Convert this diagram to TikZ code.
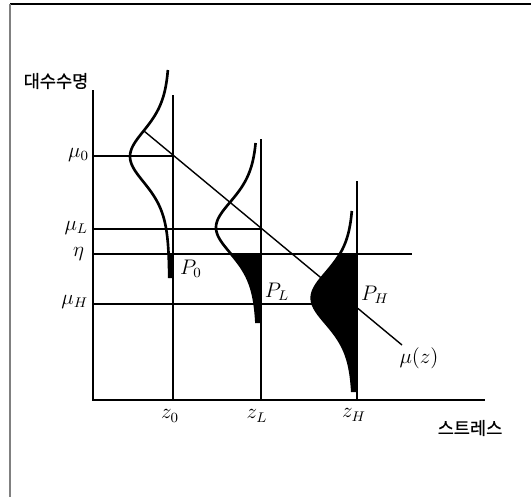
\documentclass[tikz,border=0pt]{standalone}
\usepackage{fontspec}
\newfontfamily\krfont[FakeBold=0.7]{Noto Sans CJK KR}
\begin{document}
\begin{tikzpicture}[x={(0.02cm,0cm)},y={(0cm,-0.02cm)},every node/.style={inner sep=0pt, outer sep=0pt, font=\fontsize{12}{14}\selectfont},
  axisline/.style={line width=0.9pt},
  guide/.style={line width=0.8pt},
  etaline/.style={line width=1.2pt},
  dens/.style={line width=1.5pt, line join=round},
  krlabel/.style={font=\krfont\fontsize{10}{12}\selectfont}]
\useasboundingbox (0,0) rectangle (531,497);
\draw[line width=0.8pt] (10,4) -- (531,4);
\draw[gray, line width=1.1pt] (10,4) -- (10,497);
\coordinate (org) at (93,400);
\coordinate (ytop) at (93,90);
\coordinate (xend) at (485,400);
\draw[axisline] (ytop) -- (org) -- (xend);
\coordinate (z0top) at (173,95);
\coordinate (z0bot) at (173,400);
\coordinate (zLtop) at (261,139);
\coordinate (zLbot) at (261,400);
\coordinate (zHtop) at (357,181);
\coordinate (zHbot) at (357,400);
\draw[guide] (z0top) -- (z0bot);
\draw[guide] (zLtop) -- (zLbot);
\draw[guide] (zHtop) -- (zHbot);
\coordinate (mu0l) at (93,156);
\coordinate (mu0r) at (173,156);
\coordinate (muLl) at (93,229);
\coordinate (muLr) at (261,229);
\coordinate (etal) at (93,254);
\coordinate (etar) at (412,254);
\coordinate (muHl) at (93,304);
\coordinate (muHr) at (313,304);
\draw[guide] (mu0l) -- (mu0r);
\draw[guide] (muLl) -- (muLr);
\draw[etaline] (etal) -- (etar);
\draw[guide] (muHl) -- (muHr);
\coordinate (muzs) at (144,131);
\coordinate (muze) at (402,345);
\draw[guide] (muzs) -- (muze);
\fill plot[domain=254:278, samples=20, variable=\t] ({169.5-39.5/(cosh((\t-156.5)/38))^2}, \t) -- (173,278) -- (173,254) -- cycle;
\fill plot[domain=254:323, samples=40, variable=\t] ({257.5-41.5/(cosh((\t-227.5)/38))^2}, \t) -- (261,323) -- (261,254) -- cycle;
\fill plot[domain=254:392, samples=60, variable=\t] ({353.5-41.8/(cosh((\t-298)/38))^2}, \t) -- (357,392) -- (357,254) -- cycle;
\draw[dens] plot[domain=70:278, samples=100, variable=\t] ({169.5-39.5/(cosh((\t-156.5)/38))^2}, \t);
\draw[dens] plot[domain=143:323, samples=100, variable=\t] ({257.5-41.5/(cosh((\t-227.5)/38))^2}, \t);
\draw[dens] plot[domain=211:392, samples=100, variable=\t] ({353.5-41.8/(cosh((\t-298)/38))^2}, \t);
\node[krlabel] (ylab) at (56,81) {대수수명};
\node[krlabel] (xlab) at (470,428) {스트레스};
\node[anchor=east] (mu0) at (89,155) {$\mu_0$};
\node[anchor=east] (muL) at (88,228) {$\mu_L$};
\node[anchor=east] (eta) at (84,254) {$\eta$};
\node[anchor=east] (muH) at (88,302) {$\mu_H$};
\node (p0) at (191,269) {$P_0$};
\node (pL) at (277,292) {$P_L$};
\node (pH) at (375,295) {$P_H$};
\node (muz) at (419,358) {$\mu(z)$};
\node (z0) at (170,416) {$z_0$};
\node (zL) at (257,416) {$z_L$};
\node (zH) at (354,415) {$z_H$};
\end{tikzpicture}
\end{document}
